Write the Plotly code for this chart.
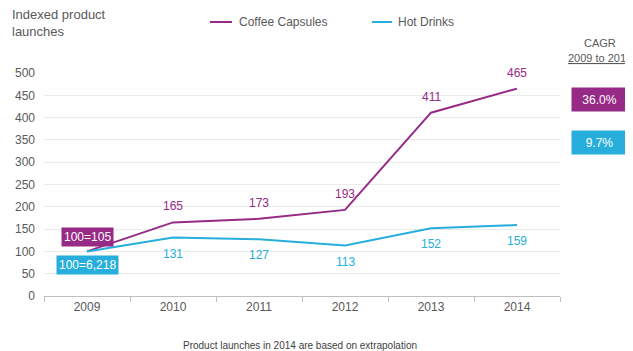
import plotly.graph_objects as go

years = ["2009", "2010", "2011", "2012", "2013", "2014"]
coffee = [100, 165, 173, 193, 411, 465]
hot = [100, 131, 127, 113, 152, 159]
coffee_base_label = "100=105"
hot_base_label = "100=6,218"
cagr_coffee = "36.0%"
cagr_hot = "9.7%"
series_names = ["Coffee Capsules", "Hot Drinks"]

PURPLE = "#962A86"
BLUE = "#27AEDC"
GRAY = "#595959"
FONT = "Liberation Sans, Arial, sans-serif"

fig = go.Figure()
fig.add_trace(go.Scatter(
    x=years, y=coffee, mode="lines", name=series_names[0],
    line=dict(color=PURPLE, width=2)))
fig.add_trace(go.Scatter(
    x=years, y=hot, mode="lines", name=series_names[1],
    line=dict(color=BLUE, width=2)))

annotations = []
for i in range(1, len(years)):
    annotations.append(dict(x=i, y=coffee[i], xref="x", yref="y", text=str(coffee[i]),
                            showarrow=False, yshift=16,
                            font=dict(color=PURPLE, size=12, family=FONT)))
    annotations.append(dict(x=i, y=hot[i], xref="x", yref="y", text=str(hot[i]),
                            showarrow=False, yshift=-16,
                            font=dict(color=BLUE, size=12, family=FONT)))

annotations += [
    dict(x=0, y=133, xref="x", yref="y", text=coffee_base_label, showarrow=False,
         bgcolor=PURPLE, font=dict(color="white", size=12, family=FONT), borderpad=2),
    dict(x=0, y=69, xref="x", yref="y", text=hot_base_label, showarrow=False,
         bgcolor=BLUE, font=dict(color="white", size=12, family=FONT), borderpad=2),
    dict(x=1.0775, y=1.134, xref="paper", yref="paper", xanchor="center", yanchor="middle",
         text="CAGR", showarrow=False, font=dict(color=GRAY, size=11, family=FONT)),
    dict(x=1.0775, y=1.067, xref="paper", yref="paper", xanchor="center", yanchor="middle",
         text="<u>2009 to 2014</u>", showarrow=False,
         font=dict(color=GRAY, size=11, family=FONT)),
    dict(x=1.0775, y=0.883, xref="paper", yref="paper", xanchor="center", yanchor="middle",
         text=cagr_coffee, showarrow=False,
         bgcolor=PURPLE, width=51, height=19, font=dict(color="white", size=12, family=FONT),
         borderpad=2),
    dict(x=1.0775, y=0.69, xref="paper", yref="paper", xanchor="center", yanchor="middle",
         text=cagr_hot, showarrow=False,
         bgcolor=BLUE, width=51, height=19, font=dict(color="white", size=12, family=FONT),
         borderpad=2),
    dict(x=-0.066, y=1.305, xref="paper", yref="paper", xanchor="left", yanchor="top",
         align="left", text="Indexed product<br>launches", showarrow=False,
         font=dict(color=GRAY, size=13, family=FONT)),
    dict(x=0.496, y=-0.22, xref="paper", yref="paper", xanchor="center", yanchor="middle",
         text="Product launches in 2014 are based on extrapolation",
         showarrow=False, font=dict(color="#404040", size=10, family=FONT)),
    # custom legend text
    dict(x=0.374, y=1.2287, xref="paper", yref="paper", xanchor="left", yanchor="middle",
         text=series_names[0], showarrow=False, font=dict(color=GRAY, size=12, family=FONT)),
    dict(x=0.682, y=1.2287, xref="paper", yref="paper", xanchor="left", yanchor="middle",
         text=series_names[1], showarrow=False, font=dict(color=GRAY, size=12, family=FONT)),
]

shapes = [
    dict(type="line", xref="paper", yref="paper", x0=0.3217, x1=0.3643, y0=1.2287, y1=1.2287,
         line=dict(color=PURPLE, width=2)),
    dict(type="line", xref="paper", yref="paper", x0=0.6357, x1=0.6744, y0=1.2287, y1=1.2287,
         line=dict(color=BLUE, width=2)),
]

fig.update_layout(
    width=625, height=343,
    margin=dict(l=36, r=73, t=65, b=55, autoexpand=False),
    paper_bgcolor="white", plot_bgcolor="white",
    font=dict(family=FONT, color=GRAY, size=12),
    showlegend=False,
    annotations=annotations,
    shapes=shapes,
    xaxis=dict(type="category", range=[-0.5, 5.5], showgrid=False, showline=True,
               linecolor="#BFBFBF", linewidth=1, ticks="outside", tickson="boundaries",
               ticklen=5, tickcolor="#BFBFBF", tickfont=dict(size=12, color=GRAY),
               fixedrange=True),
    yaxis=dict(range=[0, 500], dtick=50, showgrid=True, gridcolor="#EBEBEB", gridwidth=1,
               zeroline=False, showline=False, tickfont=dict(size=12, color=GRAY),
               ticks="", ticklabelstandoff=8, fixedrange=True),
)

fig.write_html("out.html")
